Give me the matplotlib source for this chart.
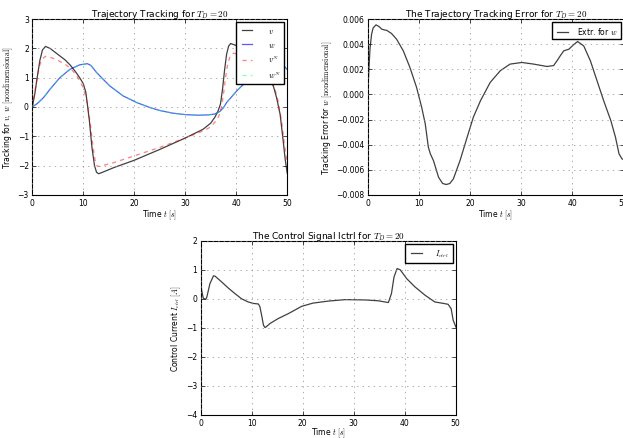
import matplotlib
matplotlib.use("Agg")
import matplotlib.pyplot as plt

plt.style.use("classic")
plt.rcParams["font.family"] = "DejaVu Sans"
plt.rcParams["mathtext.fontset"] = "cm"
plt.rcParams["figure.facecolor"] = "white"
plt.rcParams["savefig.facecolor"] = "white"
plt.rcParams["axes.titlesize"] = 6.5
plt.rcParams["axes.labelsize"] = 5.5
plt.rcParams["xtick.labelsize"] = 5.5
plt.rcParams["ytick.labelsize"] = 5.5
plt.rcParams["xtick.major.pad"] = 2.5
plt.rcParams["ytick.major.pad"] = 2.5
plt.rcParams["legend.fontsize"] = 5.5
plt.rcParams["grid.color"] = "0.55"
plt.rcParams["grid.linewidth"] = 0.5
plt.rcParams["axes.linewidth"] = 0.8
plt.rcParams["xtick.major.size"] = 3
plt.rcParams["ytick.major.size"] = 3

# --- data ---
# tracking: v (black), v^N (red dashed), w (blue), w^N (green dashed)
v_t = [0, 0.5, 1.0, 1.5, 2.0, 2.6, 3.5, 5.0, 6.5, 7.5, 8.5, 9.3, 10.0, 10.5, 10.8,
       11.2, 11.7, 12.2, 12.6, 13.0, 13.5, 16, 20, 25, 30, 33.5, 35.0, 35.8, 36.4,
       36.9, 37.3, 37.7, 38.1, 38.5, 38.9, 40.0, 41.5, 43.0, 44.5, 45.8, 46.6, 47.3,
       47.9, 48.6, 49.2, 49.6, 50.0]
v = [0.0, 0.45, 1.05, 1.6, 1.95, 2.07, 2.0, 1.8, 1.6, 1.42, 1.2, 1.0, 0.8, 0.5, 0.1,
     -0.47, -1.38, -2.0, -2.23, -2.28, -2.25, -2.07, -1.82, -1.45, -1.06, -0.76, -0.55,
     -0.35, -0.15, 0.1, 0.6, 1.25, 1.8, 2.08, 2.17, 2.1, 1.9, 1.65, 1.4, 1.15, 0.95, 0.7,
     0.32, -0.25, -1.16, -1.8, -2.27]

vN_t = [0, 0.5, 1.0, 1.5, 2.0, 2.6, 3.5, 5.0, 6.5, 7.5, 8.5, 9.3, 10.0, 10.5, 11.0,
        11.4, 11.9, 12.3, 12.7, 13.2, 16, 20, 25, 30, 33.5, 35.0, 36.0, 36.6, 37.1,
        37.5, 37.9, 38.3, 38.8, 39.5, 40.3, 41.5, 43.0, 44.5, 45.8, 46.8, 47.6, 48.2,
        48.9, 49.5, 50.0]
vN = [0.0, 0.5, 1.05, 1.45, 1.65, 1.73, 1.7, 1.6, 1.45, 1.32, 1.12, 0.9, 0.65, 0.35,
      -0.1, -0.6, -1.35, -1.8, -2.02, -2.03, -1.9, -1.67, -1.38, -1.06, -0.82, -0.68,
      -0.48, -0.3, 0.0, 0.45, 1.0, 1.45, 1.75, 1.84, 1.8, 1.7, 1.5, 1.3, 1.1, 0.9, 0.6,
      0.2, -0.5, -1.35, -1.95]

w_t = [0, 1, 2.2, 3.5, 5.4, 7.4, 9.3, 10.8, 11.5, 12.6, 14, 15.2, 17.8, 20.5, 23.1,
       25, 27.5, 30, 32.5, 34.5, 35.8, 36.8, 37.5, 38.1, 39.0, 40.1, 41.2, 42.7, 44.5,
       46.0, 47.3, 48.3, 49.1, 50]
w = [0, 0.12, 0.32, 0.61, 1.0, 1.29, 1.44, 1.48, 1.42, 1.18, 0.93, 0.72, 0.38, 0.15,
     -0.02, -0.12, -0.21, -0.26, -0.28, -0.27, -0.24, -0.15, -0.02, 0.15, 0.33, 0.55,
     0.74, 0.95, 1.18, 1.38, 1.5, 1.5, 1.45, 1.28]
wN = [0, 0.12, 0.32, 0.61, 1.0, 1.29, 1.44, 1.48, 1.42, 1.18, 0.93, 0.72, 0.38, 0.15,
      -0.02, -0.12, -0.21, -0.26, -0.28, -0.27, -0.24, -0.15, -0.02, 0.15, 0.33, 0.55,
      0.74, 0.95, 1.18, 1.38, 1.5, 1.5, 1.45, 1.28]

# tracking error for w
e_t = [0, 0.2, 0.4, 0.7, 1.0, 1.57, 2.2, 2.7, 3.7, 4.6, 5.6, 6.9, 8.2, 9.5, 10.5,
       11.2, 11.8, 12.2, 12.8, 13.8, 14.6, 15.3, 16.0, 16.7, 18.0, 19.4, 20.6, 22.0,
       23.9, 25.9, 27.8, 30.1, 32.4, 35.0, 36.3, 37.0, 37.6, 38.3, 39.3, 40.3, 41.0,
       42.2, 43.5, 44.8, 46.1, 47.5, 48.4, 49.1, 49.7, 50]
e = [0.0005, 0.0022, 0.0037, 0.0048, 0.0053, 0.00555, 0.0054, 0.0052, 0.0051, 0.00486,
     0.0044, 0.00348, 0.00215, 0.00056, -0.00103, -0.00235, -0.0042, -0.00474, -0.00527,
     -0.0066, -0.0071, -0.00718, -0.0071, -0.00673, -0.00527, -0.0034, -0.00182,
     -0.0005, 0.00096, 0.0019, 0.00242, 0.00255, 0.00242, 0.00223, 0.0023, 0.0027,
     0.00308, 0.00348, 0.00361, 0.004, 0.00422, 0.00387, 0.00268, 0.00109, -0.0005,
     -0.00209, -0.0034, -0.00474, -0.00514, -0.0052]

# control current
i_t = [0, 0.05, 0.2, 0.5, 1.0, 1.2, 1.8, 2.5, 2.8, 4.1, 5.4, 6.7, 8.0, 9.3, 10.3, 11.3,
       11.6, 12.0, 12.3, 12.6, 12.8, 13.6, 15.2, 17.2, 19.8, 22, 25, 28.3, 32.2, 34.8,
       36.8, 37.4, 37.9, 38.5, 39.1, 40.4, 42.0, 44.0, 45.9, 47.6, 48.5, 49.1, 49.5,
       49.9, 50]
i_ctrl = [-3.5, 0.45, 0.27, 0.02, -0.02, 0.06, 0.52, 0.79, 0.78, 0.58, 0.37, 0.18, 0.0,
          -0.11, -0.16, -0.18, -0.27, -0.62, -0.91, -0.99, -0.97, -0.85, -0.68, -0.51,
          -0.26, -0.15, -0.08, -0.03, -0.04, -0.07, -0.13, 0.18, 0.75, 1.04, 1.0, 0.69,
          0.41, 0.12, -0.11, -0.16, -0.19, -0.34, -0.74, -0.91, -0.97]

fig = plt.figure(figsize=(6.23, 4.39), dpi=100)

# --- top left: tracking ---
ax1 = fig.add_axes([0.0518, 0.554, 0.4093, 0.400])
ax1.plot(v_t, v, color="k", lw=0.9, alpha=0.75, label=r"$v$")
ax1.plot(w_t, w, color="b", lw=0.9, alpha=0.65, label=r"$w$")
ax1.plot(vN_t, vN, color="r", lw=0.9, alpha=0.5, dashes=(3, 3), label=r"$v^N$")
ax1.plot(w_t, wN, color="springgreen", lw=0.9, alpha=0.5, dashes=(3, 3), label=r"$w^N$")
ax1.set_xlim(0, 50)
ax1.set_ylim(-3, 3)
ax1.set_title(r"Trajectory Tracking for $T_D = 20$", pad=2)
ax1.set_xlabel(r"Time $t\ [s]$", labelpad=0)
ax1.set_ylabel(r"Tracking for $v,\ w\ [\mathrm{nondimensional}]$", labelpad=2)
ax1.grid(True)
ax1.legend(loc="upper right", handlelength=1.8, handletextpad=1.8, labelspacing=0.6,
           borderpad=0.5, borderaxespad=0.4, fancybox=False)

# --- top right: tracking error ---
ax2 = fig.add_axes([0.5907, 0.554, 0.4103, 0.400])
ax2.plot(e_t, e, color="k", lw=0.9, alpha=0.75, label=r"Extr. for $w$")
ax2.set_xlim(0, 50)
ax2.set_ylim(-0.008, 0.006)
ax2.set_title(r"The Trajectory Tracking Error for $T_D = 20$", pad=2)
ax2.set_xlabel(r"Time $t\ [s]$", labelpad=0)
ax2.set_ylabel(r"Tracking Error for $w\ [\mathrm{nondimensional}]$", labelpad=2)
ax2.grid(True)
ax2.legend(loc="upper right", handlelength=2.0, handletextpad=0.9, borderpad=0.4,
           borderaxespad=0.4, fancybox=False)

# --- bottom: control signal ---
ax3 = fig.add_axes([0.3222, 0.0525, 0.4093, 0.397])
ax3.plot(i_t, i_ctrl, color="k", lw=0.9, alpha=0.75, label=r"$I_{ctrl}$")
ax3.set_xlim(0, 50)
ax3.set_ylim(-4, 2)
ax3.set_title(r"The Control Signal Ictrl for $T_D = 20$", pad=2)
ax3.set_xlabel(r"Time $t\ [s]$", labelpad=-1)
ax3.set_ylabel(r"Control Current $I_{ctrl}\ [A]$", labelpad=2)
ax3.grid(True)
ax3.legend(loc="upper right", handlelength=2.0, handletextpad=1.5, borderpad=0.5,
           borderaxespad=0.4, fancybox=False)

fig.savefig("out.png", dpi=100)
